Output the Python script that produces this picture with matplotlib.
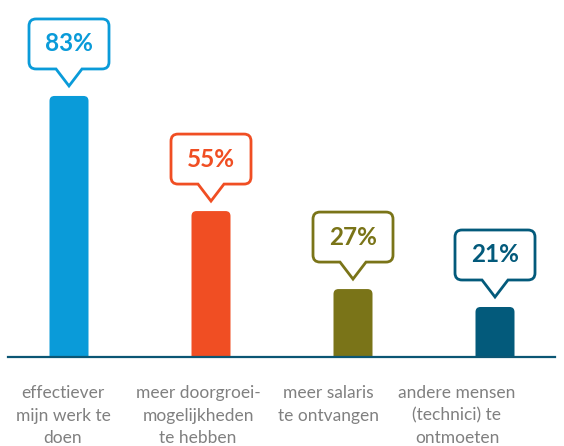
import matplotlib
matplotlib.use("Agg")
import matplotlib.pyplot as plt
from matplotlib.path import Path
from matplotlib.patches import PathPatch, FancyBboxPatch
from matplotlib import transforms

# data
categories = [
    "effectiever\nmijn werk te\ndoen",
    "meer doorgroei-\nmogelijkheden\nte hebben",
    "meer salaris\nte ontvangen",
    "andere mensen\n(technici) te\nontmoeten",
]
percent_labels = [83, 55, 27, 21]
# bar heights as drawn in the graphic (not proportional to the labels)
bar_heights = [83, 46.4, 21.6, 15.9]
colors = ["#0a9bd9", "#f04e23", "#7a7418", "#035a7b"]

# layout (pixels at 100 dpi)
W, H = 564, 446
px_per_unit = 3.145
px_per_cat = 142.0
x0_px = 69.0
base_px = 357.0
label_shift_px = [-6, -13, -25, -38]

fig = plt.figure(figsize=(W / 100, H / 100), dpi=100)
ax = fig.add_axes([0, 0, 1, 1])
ax.set_xlim(-x0_px / px_per_cat, (W - x0_px) / px_per_cat)
ax.set_ylim(-(H - base_px) / px_per_unit, base_px / px_per_unit)
ax.axis("off")

bar_w = 39 / px_per_cat
r_px = 5
clip = transforms.TransformedBbox(
    transforms.Bbox([[-1, 0], [5, 200]]), ax.transData)
for i, (h, c) in enumerate(zip(bar_heights, colors)):
    bar = FancyBboxPatch(
        (i - bar_w / 2, -5), bar_w, h + 5,
        boxstyle=f"round,pad=0,rounding_size={r_px / px_per_cat}",
        mutation_aspect=px_per_cat / px_per_unit,
        facecolor=c, edgecolor="none", zorder=2,
    )
    ax.add_patch(bar)
    bar.set_clip_box(clip)

# baseline
ax.axhline(0, xmin=8 / W, xmax=555 / W, color="#0b5674", lw=1.6, zorder=3)

# callouts
bw, bh, rr, pw, ph, gap = 80, 50, 7, 13, 17, 10


def callout_path():
    hw = bw / 2
    yb = gap + ph
    yt = yb + bh
    verts = [
        (0, gap), (-pw, yb), (-hw + rr, yb), (-hw, yb), (-hw, yb + rr),
        (-hw, yt - rr), (-hw, yt), (-hw + rr, yt),
        (hw - rr, yt), (hw, yt), (hw, yt - rr),
        (hw, yb + rr), (hw, yb), (hw - rr, yb),
        (pw, yb), (0, gap), (0, gap),
    ]
    codes = [Path.MOVETO, Path.LINETO, Path.LINETO, Path.CURVE3, Path.CURVE3,
             Path.LINETO, Path.CURVE3, Path.CURVE3,
             Path.LINETO, Path.CURVE3, Path.CURVE3,
             Path.LINETO, Path.CURVE3, Path.CURVE3,
             Path.LINETO, Path.LINETO, Path.CLOSEPOLY]
    return Path(verts, codes)


for i, (h, v, c) in enumerate(zip(bar_heights, percent_labels, colors)):
    trans = (transforms.Affine2D().scale(1 / 100) + fig.dpi_scale_trans
             + transforms.ScaledTranslation(i, h, ax.transData))
    ax.add_patch(PathPatch(callout_path(), transform=trans, facecolor="white",
                           edgecolor=c, lw=2.0, joinstyle="miter", zorder=4))
    ax.text(0, gap + ph + bh / 2, f"{v}%", transform=trans, ha="center",
            va="center", fontsize=17.5, fontweight="bold", color=c,
            family="Lato", zorder=5)

# category labels, one line at a time so every line is centred
line_step = 22.5
for i, (lab, sh) in enumerate(zip(categories, label_shift_px)):
    xc = i + sh / px_per_cat
    for k, line in enumerate(lab.split("\n")):
        yc = -((393 - base_px) + k * line_step) / px_per_unit
        ax.text(xc, yc, line, ha="center", va="center", fontsize=12.5,
                color="#808080", family="Lato")

fig.savefig("out.png", dpi=100)
